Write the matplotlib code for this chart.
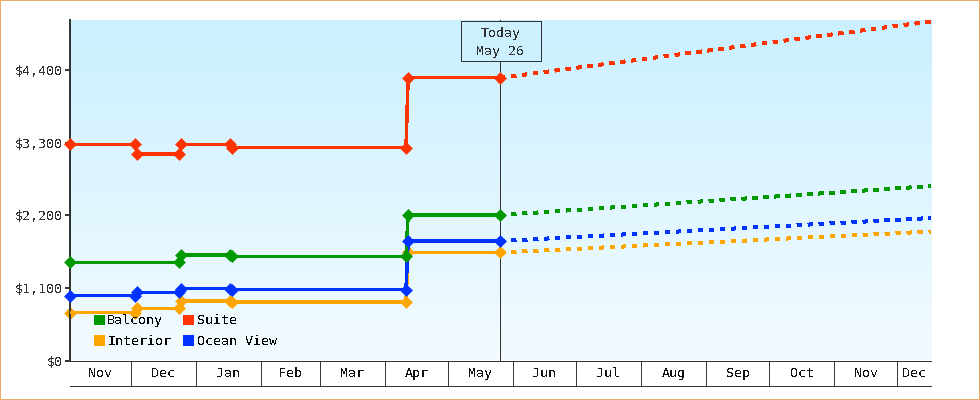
#! /usr/bin/env python
import numpy as np
import pandas as pd
import matplotlib
matplotlib.use('Agg')
import matplotlib.pyplot as plt
import matplotlib.dates as mdates
from matplotlib.colors import LinearSegmentedColormap
from matplotlib.patches import Patch, Rectangle

plt.rcParams['font.family'] = ['DejaVu Sans Mono']
plt.rcParams['text.antialiased'] = False
plt.rcParams['lines.antialiased'] = False
plt.rcParams['patch.antialiased'] = False

W, H = 980, 400
DARK = '#333333'
LW = 1.8

# price history
dates = ['2014-11-02', '2014-12-03', '2014-12-04', '2014-12-24', '2014-12-25',
         '2015-01-17', '2015-01-18', '2015-04-11', '2015-04-12', '2015-05-26']
suite = [3280, 3280, 3130, 3130, 3280, 3280, 3230, 3230, 4290, 4290]
ocean_view = [986, 986, 1032, 1032, 1092, 1092, 1077, 1077, 1813, 1813]
interior = [728, 728, 789, 789, 903, 903, 888, 888, 1639, 1639]

# balcony did not change in early December
balcony_dates = ['2014-11-02', '2014-12-24', '2014-12-25', '2015-01-17', '2015-01-18',
                 '2015-04-11', '2015-04-12', '2015-05-26']
balcony = [1488, 1488, 1600, 1600, 1578, 1578, 2208, 2208]

# forecast from today to the end of the axis
today = '2015-05-26'
end_date = '2015-12-17'
start_date = '2014-11-02'
suite_end = 5144
balcony_end = 2647
ocean_view_end = 2162
interior_end = 1957

y_ticks = [0, 1100, 2200, 3300, 4400]
y_labels = ['$0', '$1,100', '$2,200', '$3,300', '$4,400']
y_max = 5166

month_starts = ['2014-12-01', '2015-01-01', '2015-02-01', '2015-03-01', '2015-04-01',
                '2015-05-01', '2015-06-01', '2015-07-01', '2015-08-01', '2015-09-01',
                '2015-10-01', '2015-11-01', '2015-12-01']
month_labels = ['Nov', 'Dec', 'Jan', 'Feb', 'Mar', 'Apr', 'May', 'Jun',
                'Jul', 'Aug', 'Sep', 'Oct', 'Nov', 'Dec']


def num(d):
    return mdates.date2num(pd.to_datetime(d))


fig = plt.figure(figsize=(W / 100, H / 100), dpi=100, facecolor='w')
ax = fig.add_axes([70 / W, 1 - 360.5 / H, 861 / W, 340.5 / H])

# background gradient
cmap = LinearSegmentedColormap.from_list('bg', ['#caf0ff', '#f3fbff'])
ax.imshow(np.linspace(0, 1, 256).reshape(-1, 1), cmap=cmap, aspect='auto',
          extent=(0, 1, 0, 1), transform=ax.transAxes, zorder=0)

ax.axvline(num(today), color=DARK, lw=0.7, zorder=1)

# name, dates, values, forecast end, colour, marker zorder
series = [
    ('Interior', dates, interior, interior_end, '#ffa500', 2.5),
    ('Ocean View', dates, ocean_view, ocean_view_end, '#0033ff', 5),
    ('Balcony', balcony_dates, balcony, balcony_end, '#009900', 5),
    ('Suite', dates, suite, suite_end, '#ff3300', 5),
]
for name, days, values, last, color, mz in series:
    x = num(days)
    ax.plot(x, values, color=color, lw=LW, zorder=3, solid_capstyle='butt')
    ax.plot(x, values, color=color, ls='none', marker='D', ms=6, mew=0.4, zorder=mz,
            clip_on=False)
    ax.plot([num(today), num(end_date)], [values[-1], last], color=color, lw=LW,
            ls=(0, (1.6, 2.4)), dash_capstyle='butt', zorder=3)

ax.set_xlim(num(start_date), num(end_date))
ax.set_ylim(0, y_max)

ax.set_yticks(y_ticks)
ax.set_yticklabels(y_labels, fontsize=9.6, color=DARK)
ax.tick_params(axis='y', length=3.6, width=1.4, color=DARK, pad=1.5)

# month cells under the axis
edges = num(month_starts)
bounds = np.concatenate([[num(start_date)], edges, [num(end_date)]])
ax.set_xticks(edges)
ax.set_xticklabels([])
ax.set_xticks((bounds[:-1] + bounds[1:]) / 2, minor=True)
ax.set_xticklabels(month_labels, minor=True, fontsize=9.6, color='#111111')
ax.tick_params(axis='x', which='major', length=18, width=0.7, color=DARK)
ax.tick_params(axis='x', which='minor', length=0, pad=5)
ax.plot([0, 1], [-25 / 340.5, -25 / 340.5], color=DARK, lw=0.7,
        transform=ax.transAxes, clip_on=False)

for side in ['top', 'right']:
    ax.spines[side].set_visible(False)
ax.spines['left'].set_linewidth(1.4)
ax.spines['left'].set_color(DARK)
ax.spines['bottom'].set_linewidth(0.7)
ax.spines['bottom'].set_color(DARK)

handles = [Patch(facecolor=c, edgecolor='none', lw=0, label=n) for n, c in
           [('Balcony', '#009900'), ('Interior', '#ffa500'),
            ('Suite', '#ff3300'), ('Ocean View', '#0033ff')]]
ax.legend(handles=handles, ncols=2, frameon=False, loc='lower left',
          bbox_to_anchor=(0.0135, 0.001), fontsize=9.6, handlelength=0.83,
          handleheight=0.83, handletextpad=0.2, columnspacing=0.87, labelspacing=0.58)

# today box
fig.add_artist(Rectangle((460.5 / W, 1 - 60.5 / H), 80 / W, 40 / H, transform=fig.transFigure,
                         facecolor='#cdf0ff', edgecolor=DARK, lw=0.7))
fig.text(500.5 / W, 1 - 33 / H, 'Today', ha='center', va='center', fontsize=9.6, color=DARK)
fig.text(500.5 / W, 1 - 51 / H, 'May 26', ha='center', va='center', fontsize=9.6, color=DARK)

# outer border, half of the stroke falls outside the figure
fig.patch.set_edgecolor('#e8ab6b')
fig.patch.set_linewidth(1.44)

fig.savefig('out.png', dpi=100, facecolor='w', edgecolor='#e8ab6b')
